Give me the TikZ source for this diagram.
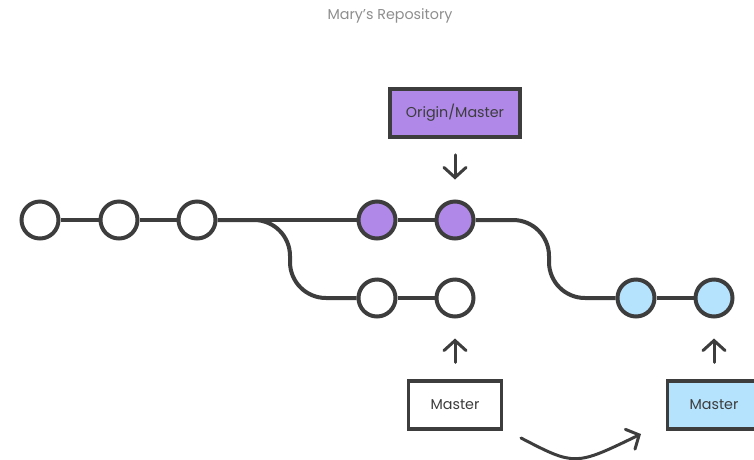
\documentclass[tikz,border=0pt]{standalone}
\usepackage{fontspec}
\setmainfont{Poppins}
\usetikzlibrary{arrows.meta}
\definecolor{ink}{HTML}{3D3D3D}
\definecolor{purp}{HTML}{AF88E8}
\definecolor{sky}{HTML}{B5E2FD}
\definecolor{titlegray}{HTML}{8E8E8E}
\tikzset{
  commit/.style={circle,draw=ink,line width=4pt,fill=white,minimum size=37pt,inner sep=0pt},
  pcommit/.style={commit,fill=purp},
  bcommit/.style={commit,fill=sky},
  edge/.style={draw=ink,line width=4pt},
  label/.style={draw=ink,line width=3.5pt,minimum width=91pt,minimum height=46pt,inner sep=0pt,font=\fontsize{14.3}{16}\selectfont,text=ink},
  pointer/.style={draw=ink,line width=3pt,line cap=round,-{Straight Barb[length=10pt,width=22pt,line cap=round]}},
}
\begin{document}
\begin{tikzpicture}[x=1pt,y=-1pt]
\useasboundingbox (0,0) rectangle (754,459);
\node[font=\fontsize{14.3}{16}\selectfont,text=titlegray] (title) at (390,16) {Mary’s Repository};
% commits
\node[commit] (c1) at (40,220) {};
\node[commit] (c2) at (119,220) {};
\node[commit] (c3) at (197,220) {};
\node[pcommit] (c4) at (377,220) {};
\node[pcommit] (c5) at (455,220) {};
\node[commit] (d1) at (377,298) {};
\node[commit] (d2) at (455,298) {};
\node[bcommit] (b1) at (636,298) {};
\node[bcommit] (b2) at (714,298) {};
% edges
\path[edge] (c1) -- (c2);
\path[edge] (c2) -- (c3);
\path[edge] (c3) -- (c4);
\path[edge] (c4) -- (c5);
\path[edge] (d1) -- (d2);
\path[edge] (b1) -- (b2);
\path[edge,rounded corners=36pt] (c3.east) -- (290,220) -- (290,298) -- (d1.west);
\path[edge,rounded corners=36pt] (c5.east) -- (549,220) -- (549,298) -- (b1.west);
% labels
\node[label,fill=purp,minimum width=130pt,minimum height=48pt] (om) at (455,113) {Origin/Master};
\node[label,fill=white,minimum width=93pt,minimum height=48pt] (m1) at (455,405) {Master};
\node[label,fill=sky,minimum width=93pt,minimum height=48pt] (m2) at (714,405) {Master};
% pointers
\draw[pointer,shorten <=16pt,shorten >=20pt] (om.south) -- (c5.north);
\draw[pointer,shorten <=17pt,shorten >=20pt] (m1.north) -- (d2.south);
\draw[pointer,shorten <=17pt,shorten >=20pt] (m2.north) -- (b2.south);
\coordinate (s) at (521,438);
\coordinate (e) at (641,434);
\draw[pointer] (s) .. controls (575,466) .. (e);
\end{tikzpicture}
\end{document}
